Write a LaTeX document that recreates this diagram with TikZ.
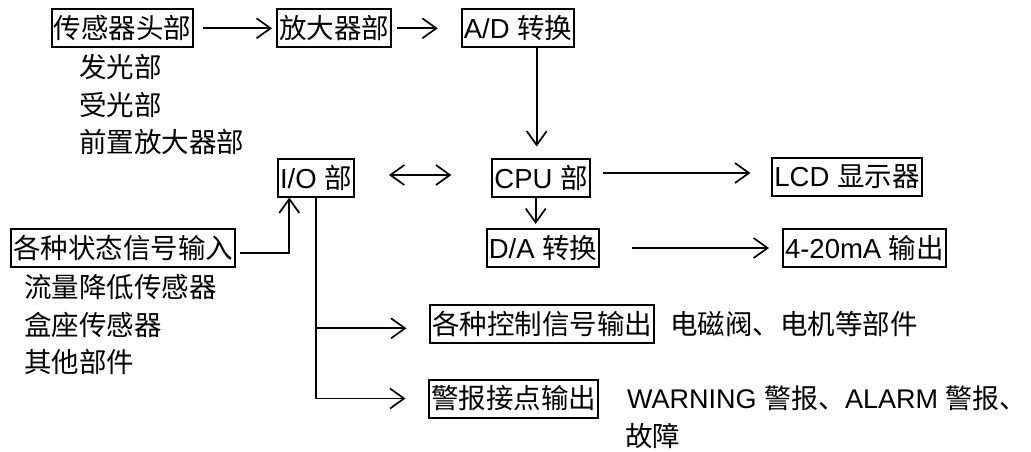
\documentclass[tikz,border=0pt]{standalone}
\usepackage{fontspec}
\setmainfont{Noto Sans CJK SC}
\newfontfamily\lat{Liberation Sans}
\usetikzlibrary{arrows.meta}
\begin{document}
\begin{tikzpicture}[x=1pt,y=-1pt,
  font=\fontsize{27.5}{33}\selectfont,
  box/.style={draw,line width=2pt,inner xsep=2pt,inner ysep=0pt,minimum height=38pt},
  lbl/.style={anchor=west,inner sep=0pt},
  arr/.style={line width=1.7pt,-{Straight Barb[length=14pt,width=20pt,line width=1.7pt]}},
  darr/.style={line width=1.7pt,{Straight Barb[length=14pt,width=20pt,line width=1.7pt]}-{Straight Barb[length=14pt,width=20pt,line width=1.7pt]}}]
\useasboundingbox (0,0) rectangle (1031,451);
% boxes
\node[box] (sensor) at (122.5,28.3) {传感器头部};
\node[box] (amp) at (334,28.3) {放大器部};
\node[box] (ad) at (518,28.3) {{\lat A/D }转换};
\node[box] (io) at (316,177.5) {{\lat I/O }部};
\node[box] (cpu) at (541,177.5) {{\lat CPU }部};
\node[box] (lcd) at (847,176.5) {{\lat LCD }显示器};
\node[box] (da) at (543,248) {{\lat D/A }转换};
\node[box] (ma) at (864.5,248) {{\lat 4-20mA }输出};
\node[box] (stat) at (123,247.5) {各种状态信号输入};
\node[box] (ctrl) at (542,323.5) {各种控制信号输出};
\node[box] (warn) at (513.5,398.5) {警报接点输出};
% labels
\node[lbl] (l1) at (79,66.7) {发光部};
\node[lbl] (l2) at (79,105) {受光部};
\node[lbl] (l3) at (79,141.7) {前置放大器部};
\node[lbl] (l4) at (24,286.7) {流量降低传感器};
\node[lbl] (l5) at (24,325) {盒座传感器};
\node[lbl] (l6) at (24,361.7) {其他部件};
\node[lbl] (l7) at (670,323.5) {电磁阀、电机等部件};
\node[lbl,font=\fontsize{27}{33}\selectfont] (l8) at (627,398.5) {{\lat WARNING }警报、{\lat ALARM }警报\makebox[0.45em][l]{、}};
\node[lbl] (l9) at (625,436) {故障};
% connectors
\draw[arr,shorten <=9pt,shorten >=4pt] (sensor.east) -- (amp.west);
\draw[arr,shorten <=5pt,shorten >=23pt] (amp.east) -- (ad.west);
\draw[arr,shorten >=11pt] ([xshift=18.7pt]ad.south) -- ([xshift=-4.3pt]cpu.north);
\draw[darr,shorten <=34pt,shorten >=40pt] ([yshift=2.5pt]io.east) -- ([yshift=2.5pt]io.east -| cpu.west);
\draw[arr,shorten <=12.7pt,shorten >=21pt] ([yshift=4.5pt]cpu.east) -- ([yshift=4.5pt]cpu.east -| lcd.west);
\draw[arr,shorten >=4pt] ([xshift=-5.3pt]cpu.south) -- ([xshift=-7.3pt]da.north);
\draw[arr,shorten <=32pt,shorten >=13pt] (da.east) -- (ma.west);
\draw[arr,shorten <=4pt] ([yshift=-5.2pt]stat.east) -| ([xshift=-26.7pt]io.south);
\draw[arr,shorten >=22.5pt] (io.south) |- ([yshift=-4.8pt]ctrl.west);
\draw[arr,shorten >=22.5pt] (io.south) |- (warn.west);
\end{tikzpicture}
\end{document}
